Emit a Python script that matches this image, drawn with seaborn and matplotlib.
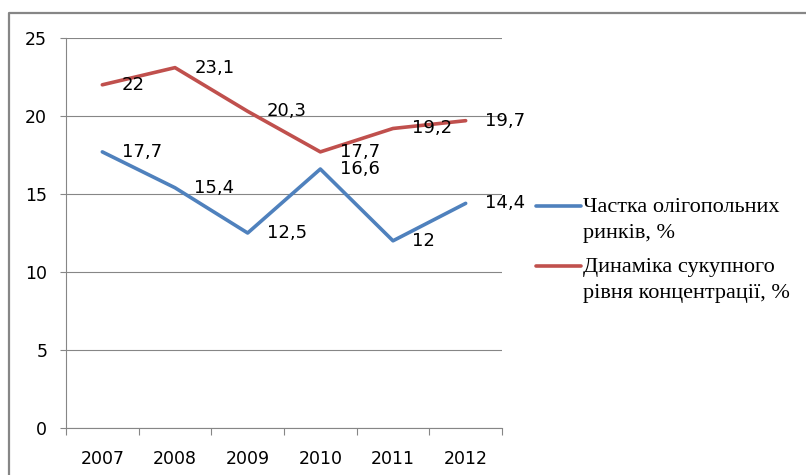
import matplotlib
matplotlib.use("Agg")
import matplotlib.pyplot as plt
from matplotlib.lines import Line2D
import seaborn as sns
import pandas as pd

years = ["2007", "2008", "2009", "2010", "2011", "2012"]
oligopoly_share = [17.7, 15.4, 12.5, 16.6, 12.0, 14.4]
concentration = [22.0, 23.1, 20.3, 17.7, 19.2, 19.7]
series_names = ["Частка олігопольних\nринків, %", "Динаміка сукупного\nрівня концентрації, %"]
y_ticks = [0, 5, 10, 15, 20, 25]

BLUE = "#4F81BD"
RED = "#C0504D"
GRID = "#868686"

sns.set_theme(style="white")
plt.rcParams["font.family"] = ["DejaVu Sans"]

W, H = 806, 475
fig = plt.figure(figsize=(W / 100, H / 100), dpi=100)
fig.patch.set_facecolor("white")
ax = fig.add_axes([66 / W, 1 - 428 / H, (502 - 66) / W, (428 - 38) / H])

df = pd.DataFrame({
    "year": years * 2,
    "value": oligopoly_share + concentration,
    "series": [series_names[0]] * len(years) + [series_names[1]] * len(years),
})
sns.lineplot(data=df, x="year", y="value", hue="series",
             palette=[BLUE, RED], linewidth=2.6, ax=ax, legend=False,
             sort=False)

ax.set_xlim(-0.5, len(years) - 0.5)
ax.set_ylim(0, 25)
ax.set_yticks(y_ticks)
ax.set_xlabel("")
ax.set_ylabel("")

# gridlines and axes
ax.grid(axis="y", color=GRID, linewidth=0.8)
ax.grid(axis="x", visible=False)
for side in ("top", "right"):
    ax.spines[side].set_visible(False)
for side in ("left", "bottom"):
    ax.spines[side].set_color(GRID)
    ax.spines[side].set_linewidth(0.8)
ax.set_axisbelow(True)

ax.tick_params(axis="y", which="major", length=4.5, width=0.8, color=GRID,
               direction="out", pad=9, labelsize=12.5, labelcolor="black", left=True)
ax.set_xticks(range(len(years)))
ax.set_xticklabels(years)
ax.set_xticks([i - 0.5 for i in range(len(years) + 1)], minor=True)
ax.tick_params(axis="x", which="major", length=0, pad=16, labelsize=12.5, labelcolor="black")
ax.tick_params(axis="x", which="minor", length=5, width=0.8, color=GRID,
               direction="out", bottom=True)

# value labels to the right of each point
for vals in (oligopoly_share, concentration):
    for i, v in enumerate(vals):
        txt = f"{v:g}".replace(".", ",")
        ax.annotate(txt, xy=(i, v), xytext=(14, 0), textcoords="offset points",
                    ha="left", va="center", fontsize=13, color="black")

# legend
serif = ["Liberation Serif", "DejaVu Serif"]
for color, label, y_line in ((BLUE, series_names[0], 206), (RED, series_names[1], 266)):
    fig.add_artist(Line2D([536 / W, 581 / W], [1 - y_line / H] * 2,
                          color=color, linewidth=2.6, transform=fig.transFigure))
    fig.text(583 / W, 1 - (y_line - 8) / H, label, ha="left", va="top",
             fontsize=16, family=serif, linespacing=1.48, color="black")

# outer frame (top and left edges)
fig.add_artist(Line2D([9 / W, 9 / W, 1], [0, 1 - 13 / H, 1 - 13 / H],
                      color="#868686", linewidth=1.6, transform=fig.transFigure))

fig.savefig("out.png", dpi=100, facecolor="white")
